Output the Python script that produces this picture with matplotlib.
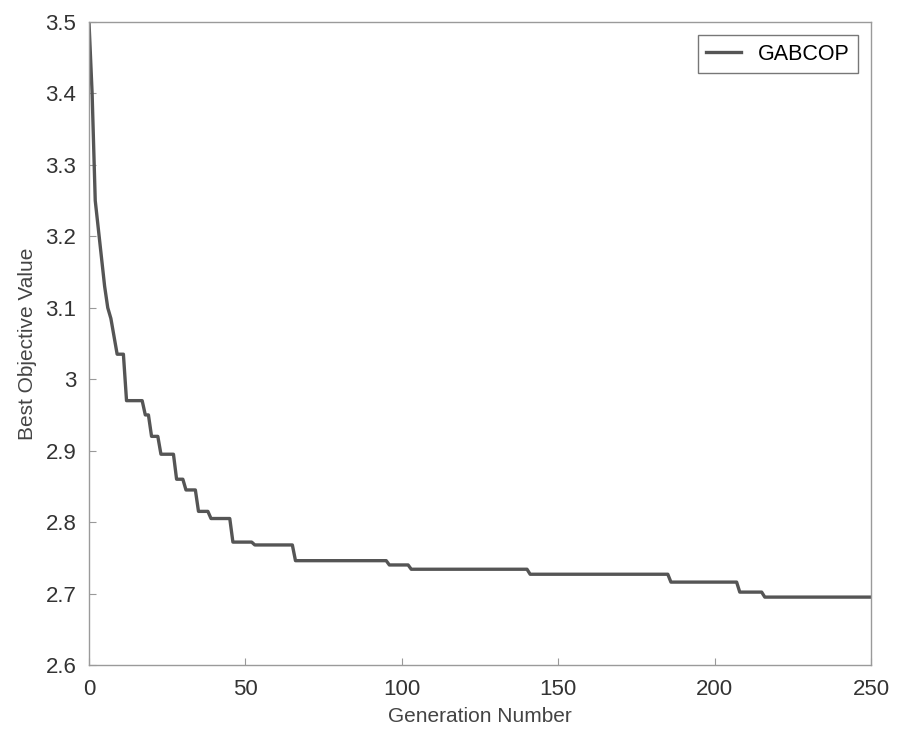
import numpy as np
import matplotlib
matplotlib.use("Agg")
import matplotlib.pyplot as plt

# generation where best value changes, and the value held from there on
generations = [0, 1, 2, 3, 4, 5, 6, 7, 8, 9, 12, 18, 20, 23, 28, 31, 35, 39, 46, 53, 66, 96, 103, 141, 186, 208, 216, 250]
best_values = [3.50, 3.40, 3.25, 3.21, 3.17, 3.13, 3.10, 3.085, 3.06, 3.035, 2.97, 2.95, 2.92, 2.895, 2.86,
               2.845, 2.815, 2.805, 2.772, 2.768, 2.746, 2.740, 2.734, 2.727, 2.716, 2.702, 2.695, 2.695]

xticks = [0, 50, 100, 150, 200, 250]
yticks = [2.6, 2.7, 2.8, 2.9, 3.0, 3.1, 3.2, 3.3, 3.4, 3.5]
ytick_labels = ["2.6", "2.7", "2.8", "2.9", "3", "3.1", "3.2", "3.3", "3.4", "3.5"]

plt.rcParams['font.family'] = ['Liberation Sans', 'DejaVu Sans']

# one point per generation is plotted, so each drop spans one generation
xs, ys = [], []
for i in range(len(generations) - 1):
    xs.append(generations[i])
    ys.append(best_values[i])
    end = generations[i + 1] - 1
    if end > generations[i]:
        xs.append(end)
        ys.append(best_values[i])
xs.append(generations[-1])
ys.append(best_values[-1])

fig = plt.figure(figsize=(8.97, 7.36), dpi=100)
ax = fig.add_axes([0.0992, 0.0965, 0.872, 0.8736])

ax.plot(xs, ys, color='#555555', lw=2.4, label='GABCOP')

ax.set_xlim(0, 250)
ax.set_ylim(2.6, 3.5)
ax.set_xticks(xticks)
ax.set_yticks(yticks)
ax.set_yticklabels(ytick_labels)
ax.tick_params(direction='in', length=5, colors='#999999', labelcolor='#333333', labelsize=16)
ax.tick_params(axis='x', pad=10)
ax.tick_params(axis='y', pad=9)
for s in ax.spines.values():
    s.set_color('#9a9a9a')
    s.set_linewidth(1.0)

ax.set_xlabel('Generation Number', fontsize=15, color='#444444', labelpad=5)
ax.set_ylabel('Best Objective Value', fontsize=15, color='#444444', labelpad=6)

leg = ax.legend(loc='upper right', fontsize=15.5, handlelength=1.6, fancybox=False,
                edgecolor='#777777', borderaxespad=0.6, framealpha=1)
leg.get_frame().set_linewidth(1.0)

fig.savefig('out.png', dpi=100)
